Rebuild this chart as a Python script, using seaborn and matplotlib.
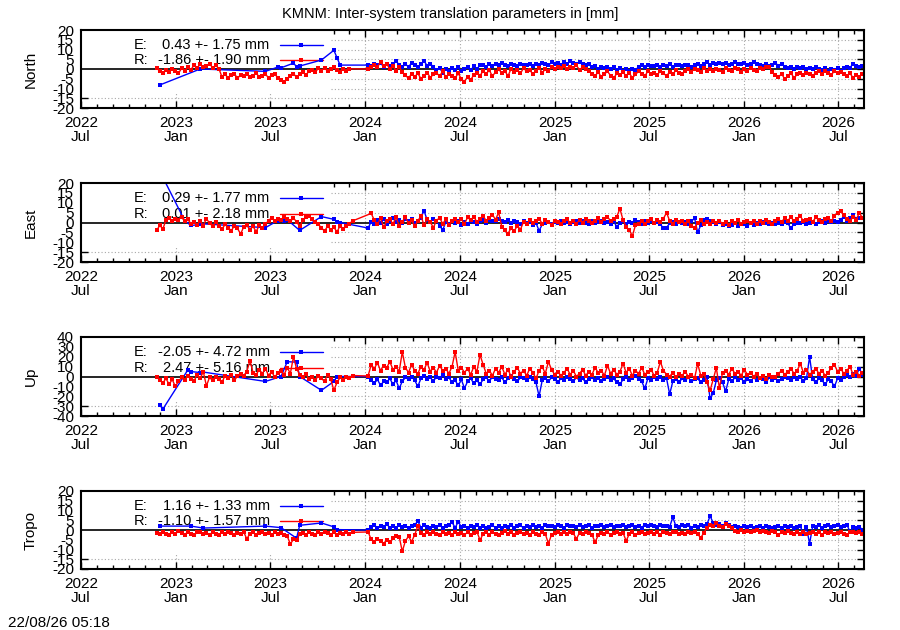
import numpy as np
import pandas as pd
import matplotlib
matplotlib.use("Agg")
import matplotlib.pyplot as plt
import matplotlib.dates as mdates
from matplotlib.patches import Rectangle
import seaborn as sns

na = None
START = "2022-11-24"   # first epoch of the series
STEP_DAYS = 6           # sampling of the values
DENSE_E_START = 68      # sample index from which E is continuous

# ---------------- North ----------------
north_R = [
    0.5, -1.2, -2.0, -0.5, -1.5, 0.2, -1.0, -2.2, 0.3, -0.8,
    1.0, -0.3, 1.8, 0.4, 2.5, 0.8, 1.5, 2.8, 0.6, 1.9,
    0.2, -4.0, -2.8, -4.5, -3.2, -2.4, -4.8, -3.0, -3.8, -2.6,
    -4.2, -3.4, -2.2, -4.0, -3.6, -2.8, -4.4, -3.2, -2.5, -4.6,
    -5.5, -6.8, -5.0, -3.6, -2.4, -4.2, -2.8, -1.6, -3.0, -1.2,
    -0.4, -1.6, 0.3, -0.8, 0.6, -1.2, -0.2, 0.8, -0.6, -1.4,
    0.2, -0.9, 0.1, na, na, na, na, na, 0.0, 1.2,
    2.0, 0.8, 3.8, 1.5, 2.4, 0.2, 1.6, -0.8, 0.9, -1.5,
    -3.2, -4.8, -2.4, -4.0, -2.2, -5.0, -3.4, -1.8, -4.4, -2.8,
    -2.0, -3.6, -1.2, -4.2, -2.6, -3.8, -4.6, -2.2, -5.2, -6.5,
    -4.0, -5.6, -3.0, -1.8, -3.4, -1.0, -2.4, -0.6, -3.8, -1.4,
    -0.2, -2.0, -1.0, -3.6, 0.2, -1.6, -0.6, -2.2, 0.4, -1.2,
    -0.4, -2.8, -0.8, 0.6, -1.8, -0.2, -1.0, 0.8, 0.2, 1.2,
    0.4, 1.6, -0.2, 1.0, 0.6, 1.8, -0.4, 0.9, 0.2, -1.2,
    -2.4, -3.8, -1.4, -4.2, -2.6, -1.2, -3.4, -4.8, -2.2, -3.0,
    -1.6, -3.6, -2.0, -4.6, -2.8, -1.2, -2.4, -3.8, -1.0, -2.6,
    -1.8, -3.2, -0.8, -2.2, -3.6, -1.4, -2.8, -0.6, -1.8, -2.4,
    -0.8, -0.2, -1.4, 0.2, -0.6, -1.6, 0.4, -0.8, -0.2, -1.2,
    0.2, -0.6, -1.4, 0.4, -0.4, -1.0, 0.6, -0.2, -1.6, 0.0,
    -0.8, 0.4, -0.4, -1.2, 0.6, 0.2, 1.2, 1.0, -1.6, -3.0,
    -4.2, -2.4, -5.2, -3.6, -2.0, -4.6, -2.8, -2.2, -3.0, -1.8,
    -2.6, -3.4, -2.0, -1.2, -2.4, -0.8, -1.8, -3.0, -1.0, -2.2,
    -1.4, -2.8, -3.6, -2.2, -4.6, -3.0, -4.0, -2.4,
]
north_E_early_idx = [1, 14, 35, 39, 40, 44, 45, 46, 53, 57, 58, 59]
north_E_early_val = [-8.2, 0.0, -1.2, 1.0, 0.6, 3.0, 1.2, 1.5, 4.6, 9.6, 5.8, 2.0]
north_E = [
    2.0, 1.4, 2.6, 1.8, 3.0, 1.2, 2.4, 1.6, 2.8, 4.0, 2.2, 1.0,
    2.4, 1.2, 3.0, 1.8, 0.8, 2.6, 4.2, 1.6, 2.8, 1.0,
    -0.6, 0.4, -1.8, 0.2, -1.0, 0.6, -0.4, 0.8, -1.2, 0.2,
    0.8, -0.6, 1.4, 0.2, 1.8, 2.2, 1.2, 2.6, 1.6, 2.4,
    1.8, 3.0, 2.2, 1.4, 2.8, 2.0, 1.6, 2.6, 2.2, 1.8,
    2.4, 1.4, 2.8, 2.0, 3.2, 2.4, 1.8, 3.4, 2.6, 3.0,
    2.2, 3.6, 2.8, 4.0, 3.2, 2.4, 3.8, 2.6, 1.8, 2.4,
    0.8, 1.4, 0.2, 1.0, 0.6, 1.2, 0.0, 0.8, -0.4, 0.6,
    -0.8, -0.2, -1.0, 0.2, -0.6, 1.2, 1.8, 1.0, 2.0, 1.4,
    1.6, 2.2, 1.0, 1.8, 1.4, 2.4, 1.2, 1.8, 2.0, 1.4,
    1.8, 2.2, 1.2, 2.0, 2.6, 1.6, 2.4, 3.4, 2.2, 3.0,
    2.6, 3.2, 2.4, 3.0, 2.2, 2.8, 3.4, 2.4, 2.6, 3.0,
    2.2, 2.8, 3.4, 2.6, 2.0, 1.6, 2.8, 1.4, 2.2, 3.2,
    1.6, 2.8, 1.2, 0.6, 1.0, 0.2, 0.8, 0.4, 1.0, 0.2,
    0.6, -0.2, 0.8, 0.0, -0.6, 0.4, -1.0, 0.2, -0.4, 0.6,
    -0.8, 0.4, 1.2, 0.6, 2.8, 1.4, 0.8, 1.6,
]

# ---------------- East ----------------
east_R = [
    -4.0, -1.5, -3.2, 1.2, 2.4, 0.8, 2.0, 1.4, 2.8, 0.6,
    1.6, -0.6, 0.4, -1.2, 0.8, -1.6, 2.0, -0.4, -1.8, 0.2,
    -2.0, -3.4, -1.0, -2.6, -4.2, -1.6, -3.0, -5.8, -2.2, -1.2,
    -3.6, -2.0, -4.6, -1.4, -2.8, -0.8, 1.0, 2.4, 0.8, 2.0,
    1.4, 3.0, 1.8, 0.6, 2.2, 0.4, -2.0, 1.2, 2.8, 3.4,
    1.6, 0.4, -1.0, -2.6, -4.4, -1.8, -3.6, -2.4, -4.8, -1.6,
    -3.2, -2.0, -0.6, 0.8, na, na, na, na, na, 4.6,
    1.2, -1.0, 2.2, -2.4, 0.6, 1.8, -0.8, 2.6, -1.6, 0.4,
    2.8, -0.4, 1.4, -2.0, 0.8, 3.2, -1.2, 1.6, 0.2, -2.6,
    1.0, 2.4, -0.6, 1.6, -1.4, 0.6, 2.0, 0.4, 1.8, -0.8,
    2.6, 1.2, 3.0, 0.2, 1.8, 3.4, 0.8, 2.2, 4.0, 1.4,
    5.2, -2.2, -4.0, -5.6, -2.8, -4.4, -1.6, -3.6, 0.4, -1.0,
    1.2, -0.4, 0.8, 2.0, -0.6, 1.4, 0.2, -1.2, 1.0, 0.4,
    -0.8, 0.6, 1.6, -0.2, 0.8, -0.6, 1.2, 0.0, 1.8, 0.6,
    -0.4, 1.0, 2.2, 0.4, 1.6, 2.8, 0.8, 2.0, 3.0, 7.0,
    1.2, -2.2, -3.8, -6.8, -1.4, -0.6, 1.0, -0.8, 0.6, 1.6,
    -0.4, 1.2, 0.2, 2.0, 5.0, 0.8, -0.6, 1.4, 0.2, 1.0,
    -0.8, 0.6, -1.8, -2.6, -0.4, 1.2, -1.0, 0.4, -0.6, 0.8,
    -0.2, 1.0, -0.8, 0.4, -1.2, 0.6, -0.4, 1.2, -0.6, 0.2,
    1.0, -0.4, 0.6, -1.0, 0.8, 0.0, 1.4, 0.2, -0.6, 0.8,
    1.6, 0.4, 2.2, 1.0, 2.8, 0.6, 1.8, 3.2, 0.8, 1.4,
    2.0, 0.4, 2.6, 1.2, 0.2, 1.8, 2.4, 0.6, 3.4, 4.8,
    5.8, 3.6, 2.0, 0.6, 3.0, 1.4, 5.0, 2.2,
]
east_E_early_idx = [1, 9, 11, 13, 14, 35, 39, 41, 42, 46, 53, 57, 58, 59]
east_E_early_val = [26.0, 1.0, -1.5, -1.2, -0.6, -2.6, 1.0, 0.8, 1.4, -4.0, 3.0, 1.6, 0.4, 0.0]
east_E = [
    -2.8, 0.4, -1.0, 1.2, 0.0, 1.8, -0.6, 0.8, 2.2, 0.2, 1.4, -0.4,
    1.6, 0.6, 2.0, -0.2, 1.0, 2.4, 6.0, 1.2, 0.4, 1.8,
    0.8, -1.6, -3.8, 0.2, -1.0, 0.6, -0.4, 1.0, -1.2, 0.4,
    -0.6, 0.8, 0.2, -0.8, 0.6, 1.2, 0.0, 1.4, 0.6, 1.0,
    1.6, 1.0, 0.4, 1.2, -0.4, 0.8, 0.2, -0.8, 0.6, 0.0,
    0.4, -1.2, -0.2, -4.2, -1.0, -0.4, 0.2, -0.6, 0.4, -0.2,
    0.6, -0.4, 0.2, -0.8, 0.4, 1.0, -0.2, 0.6, 0.0, -0.6,
    0.8, -0.2, 0.4, 1.0, -0.4, 0.2, -0.8, 0.6, -2.2, 0.0,
    0.6, -0.8, 0.2, -0.4, 1.2, 0.4, -0.6, 0.8, -0.2, 0.6,
    -0.4, 0.2, -0.8, -3.0, -2.6, -0.4, 0.4, -0.6, 0.2, -0.2,
    0.4, -0.8, 0.6, 2.2, -5.0, -1.4, 1.2, 1.8, 0.8, 0.2,
    -0.6, 0.4, -1.4, -0.8, -2.0, -1.2, -0.4, -1.6, -0.6, -1.0,
    -1.8, -0.4, -1.2, -0.2, -0.8, 0.2, -0.4, -1.0, 0.0, -0.6,
    -0.2, -0.8, 0.2, -0.4, -3.0, -0.6, 0.0, -0.4, 0.4, -1.0,
    -0.2, 0.4, -0.6, 0.2, 0.6, -0.2, 0.8, 0.2, 1.0, 0.4,
    1.4, 3.0, 0.8, 2.2, 4.0, 1.6, 2.2, 2.4,
]

# ---------------- Up ----------------
up_R = [
    0.0, -4.0, -6.5, -2.0, -8.0, -3.0, -10.0, -5.0, -1.0, -4.0,
    1.0, -3.0, -5.0, 2.0, -2.0, 5.0, -9.5, -1.0, -4.0, 0.0,
    -3.0, -6.0, 1.0, -2.0, 2.0, -4.0, 0.5, 3.0, 1.0, 5.0,
    16.0, 4.0, 2.0, 7.0, 3.0, 8.0, 1.0, 5.0, -1.0, 4.0,
    6.0, 2.0, 9.0, 3.0, 20.0, 8.0, 2.0, -1.0, 3.0, -3.0,
    0.0, -4.0, 1.0, -2.0, -5.0, 2.0, -3.0, -14.0, -6.0, -1.0,
    -4.0, 0.0, -2.0, 1.0, na, na, na, na, 0.5, 12.0,
    8.0, 14.0, 6.0, 11.0, 9.0, 15.0, 7.0, 10.0, 5.0, 25.0,
    9.0, 4.0, 12.0, 6.0, 3.0, 10.0, 7.0, 14.0, 5.0, 9.0,
    4.0, 11.0, 6.0, 8.0, 3.0, 10.0, 25.0, 6.0, 9.0, 4.0,
    8.0, 2.0, 10.0, 5.0, 22.0, 12.0, 3.0, 6.0, 1.0, 8.0,
    4.0, 10.0, 2.0, 7.0, 0.0, 5.0, 9.0, 3.0, 6.0, 1.0,
    8.0, 4.0, -2.0, 6.0, 10.0, 3.0, 15.0, 7.0, 2.0, 5.0,
    1.0, 4.0, 8.0, 2.0, 6.0, 0.0, 3.0, 7.0, 1.0, 5.0,
    2.0, 9.0, 4.0, 6.0, 1.0, 11.0, 3.0, 7.0, 2.0, 5.0,
    13.0, 4.0, 8.0, 1.0, 6.0, 3.0, 9.0, 2.0, 5.0, 7.0,
    1.0, 4.0, 15.0, 6.0, 2.0, 0.0, 4.0, -1.0, 3.0, 1.0,
    5.0, 0.0, 2.0, -2.0, 13.0, 1.0, 3.0, -6.0, -14.0, -3.0,
    9.0, -12.0, 4.0, 6.0, 2.0, 8.0, 3.0, 5.0, 1.0, 7.0,
    2.0, 4.0, 0.0, 3.0, -2.0, 1.0, -3.0, 2.0, -1.0, 0.0,
    3.0, 6.0, 2.0, 5.0, 8.0, 3.0, 6.0, 13.0, 4.0, 7.0,
    2.0, 5.0, 8.0, 3.0, 6.0, 1.0, 4.0, 9.0, 12.0, 5.0,
    8.0, 3.0, 6.0, 10.0, 2.0, 5.0, 1.0, 4.0,
]
up_E_early_idx = [1, 2, 10, 11, 14, 15, 35, 40, 42, 45, 46, 53, 57, 58]
up_E_early_val = [-29.0, -33.0, 6.5, 5.0, 4.0, 4.5, -5.0, 0.0, 15.0, 14.5, 0.0, -14.0, -5.0, 0.0]
up_E = [
    0.0, -4.0, -7.0, -3.0, -9.0, -5.0, -6.0, -2.0, -8.0, -4.0, -12.0, -5.0,
    -1.0, -3.0, 0.0, -4.0, -10.0, -2.0, 1.0, -3.0, -1.0, -5.0,
    0.0, -2.0, 2.0, -3.0, -1.0, -6.0, -4.0, -9.0, -3.0, -12.0,
    -5.0, -2.0, -7.0, -4.0, -8.0, -3.0, -1.0, -5.0, 0.0, -3.0,
    -4.0, -1.0, -6.0, -2.0, 1.0, -3.0, -5.0, -1.0, -2.0, -4.0,
    0.0, -3.0, -6.0, -20.0, -4.0, -2.0, -5.0, -1.0, -3.0, -6.0,
    -2.0, -4.0, 0.0, -3.0, -5.0, -1.0, -4.0, -2.0, -6.0, -3.0,
    -1.0, -4.0, -2.0, -5.0, -3.0, 0.0, -4.0, -2.0, -6.0, -8.0,
    -3.0, -1.0, -4.0, -2.0, 1.0, -3.0, -5.0, -12.0, -2.0, -4.0,
    0.0, -3.0, -1.0, -4.0, -2.0, -18.0, -5.0, -3.0, -6.0, -2.0,
    -4.0, -1.0, -5.0, -3.0, -2.0, -6.0, -4.0, -1.0, -22.0, -17.0,
    -4.0, -2.0, -6.0, -15.0, -3.0, -5.0, -1.0, -4.0, -2.0, -6.0,
    -3.0, -5.0, -1.0, -4.0, -2.0, -3.0, -6.0, -1.0, -4.0, -2.0,
    -5.0, -3.0, 0.0, -2.0, -4.0, -1.0, -3.0, 0.0, -5.0, -2.0,
    20.0, -3.0, -6.0, -2.0, -4.0, -8.0, -3.0, -5.0, -10.0, -2.0,
    -4.0, -1.0, 2.0, 0.0, 3.0, 1.0, 8.0, 2.0,
]

# ---------------- Tropo ----------------
tropo_R = [
    -1.4, -2.2, -0.8, -1.8, -2.6, -1.2, -2.0, -0.6, -1.6, -2.4,
    -1.0, -1.8, -2.8, -1.2, -0.8, -2.0, -1.4, -2.6, -1.0, -1.8,
    -2.4, -1.2, -2.0, -0.8, -1.6, -2.8, -1.4, -2.2, -1.0, -4.6,
    -1.8, -1.2, -2.6, -1.4, -0.8, -2.2, -1.6, -2.8, -1.2, -2.0,
    -1.4, -2.6, -3.2, -7.2, -4.8, -5.2, -2.0, -1.4, -2.4, -1.0,
    -1.8, -2.6, -1.2, -2.0, -0.8, -1.6, -2.4, -1.2, -2.8, -1.4,
    -2.0, -1.0, -1.8, -1.2, na, na, na, na, -1.0, -4.8,
    -6.2, -4.4, -5.8, -7.0, -5.0, -6.4, -4.2, -3.0, -3.4, -11.0,
    -5.6, -3.2, -6.0, -2.4, 2.0, -1.4, -2.6, -1.2, -2.2, -0.8,
    -1.8, -2.8, -1.0, -2.2, -1.4, -2.6, -1.0, -2.0, -1.6, -2.4,
    -1.2, -2.6, -1.6, -0.8, -5.2, -2.0, -1.2, -2.4, -1.0, -1.8,
    -2.6, -1.4, -0.6, -2.0, -1.2, -2.8, -1.6, -1.0, -2.2, -1.4,
    -2.4, -1.0, -1.8, -2.6, -1.2, -2.0, -7.0, -2.4, -1.4, -1.0,
    -1.8, -1.2, -2.2, -0.8, -1.6, -4.6, -1.4, -2.0, -1.0, -1.6,
    -2.4, -6.2, -2.8, -1.4, -2.0, -1.0, -2.6, -1.6, -1.2, -2.2,
    -1.4, -5.6, -2.0, -1.2, -2.6, -1.6, -1.0, -2.2, -1.4, -0.8,
    -1.8, -1.2, -2.4, -1.0, -1.6, -2.2, -1.2, -0.8, -1.8, -1.4,
    -2.0, -1.2, -1.6, -0.8, -2.2, -4.0, -1.4, 1.2, 2.8, 1.8,
    3.6, 2.2, 1.4, 3.0, 2.0, 0.8, -0.4, -1.0, -0.2, -0.8,
    -0.4, -1.2, -0.6, 0.0, -1.0, -0.4, -0.8, -1.4, -0.6, -1.2,
    -2.6, -1.0, -1.6, -0.6, -1.4, -2.0, -1.0, -1.8, -1.2, -2.2,
    -1.4, -0.8, -1.8, -1.2, -2.4, -1.0, -1.6, -0.8, -2.0, -1.4,
    -1.0, -1.8, -2.6, -1.2, -0.8, -1.6, -1.2, -2.0,
]
tropo_E_early_idx = [1, 11, 15, 35, 40, 45, 46, 53, 57, 58]
tropo_E_early_val = [2.0, 2.0, 1.0, 2.0, 1.2, -4.2, 2.4, 3.6, 1.6, 0.2]
tropo_E = [
    0.0, 1.4, 2.6, 1.0, 2.2, 1.6, 3.0, 1.2, 2.0, 0.8, 2.8, 1.4,
    2.2, 1.0, 1.8, 2.6, 4.6, 1.2, 2.4, 1.6, 0.8, 2.0,
    1.4, 2.6, 1.0, 1.8, 2.4, 4.0, 1.2, 4.2, 1.6, 2.0,
    1.0, 2.2, 1.4, 2.8, 1.2, 2.0, 0.8, 1.6, 2.4, 1.2,
    1.8, 1.0, 2.2, 1.4, 2.6, 1.2, 1.8, 2.4, 1.0, 2.0,
    1.4, 2.8, 1.6, 2.2, 1.0, 2.6, 1.8, 2.2, 1.4, 2.4,
    2.0, 1.2, 2.6, 1.8, 2.2, 1.4, 2.8, 1.6, 2.0, 2.4,
    1.2, 2.2, 1.8, 2.6, 1.4, 2.0, 2.8, 1.6, 2.2, 1.8,
    2.4, 1.4, 2.0, 2.6, 1.6, 2.2, 1.2, 2.8, 1.8, 2.4,
    2.0, 1.4, 2.6, 1.8, 2.2, 1.6, 6.6, 2.0, 1.4, 2.4,
    1.8, 2.8, 1.2, 2.2, 1.6, 2.6, 2.0, 3.0, 7.2, 3.6,
    2.4, 3.2, 2.0, 3.6, 2.6, 1.4, 2.0, 1.6, 1.2, 2.0,
    1.4, 1.8, 1.0, 1.6, 2.2, 1.2, 1.8, 1.4, 0.8, 1.6,
    2.0, 1.2, 1.8, 1.4, 2.2, 1.0, 1.6, 2.0, -2.0, 1.4,
    -7.0, 2.0, 1.6, 2.4, 1.2, 1.8, 2.6, 1.4, 2.0, 2.4,
    1.6, 2.2, 2.8, -1.0, 1.4, 0.8, 1.6, 0.2,
]

panel_names = ["North", "East", "Up", "Tropo"]
key_E = ["0.43 +- 1.75 mm", "0.29 +- 1.77 mm", "-2.05 +- 4.72 mm", "1.16 +- 1.33 mm"]
key_R = ["-1.86 +- 1.90 mm", "0.01 +- 2.18 mm", "2.47 +- 5.16 mm", "-1.10 +- 1.57 mm"]
y_limits = [(-20, 20), (-20, 20), (-40, 40), (-20, 20)]
y_steps = [5, 5, 10, 5]
title = "KMNM: Inter-system translation parameters in [mm]"
stamp = "22/08/26 05:18"

R_series = [north_R, east_R, up_R, tropo_R]
E_series = [(north_E_early_idx, north_E_early_val, north_E),
            (east_E_early_idx, east_E_early_val, east_E),
            (up_E_early_idx, up_E_early_val, up_E),
            (tropo_E_early_idx, tropo_E_early_val, tropo_E)]

# ---------------------------------------------------------------
sns.set_style("ticks")
plt.rcParams.update({
    "font.family": ["Liberation Sans", "DejaVu Sans"],
    "font.size": 10.5,
    "text.color": "black",
    "axes.edgecolor": "black",
    "axes.labelcolor": "black",
    "xtick.color": "black",
    "ytick.color": "black",
})

t0 = pd.Timestamp(START)


def to_dates(idx):
    return t0 + pd.to_timedelta(np.asarray(idx) * STEP_DAYS, unit="D")


def frame_R(vals):
    idx = np.arange(len(vals))
    df = pd.DataFrame({"date": to_dates(idx),
                       "val": pd.to_numeric(pd.Series(vals, dtype="object"), errors="coerce")})
    return df.dropna()


def frame_E(early_idx, early_val, dense):
    idx = list(early_idx) + list(range(DENSE_E_START, DENSE_E_START + len(dense)))
    vals = list(early_val) + list(dense)
    df = pd.DataFrame({"date": to_dates(idx), "val": vals})
    return df.dropna().sort_values("date")


W, H = 900, 630
fig = plt.figure(figsize=(W / 100, H / 100), dpi=100)

ax_left, ax_right = 81, 864
panels_px = [(30, 108), (183, 262), (337, 416), (491, 569)]
xmin, xmax = pd.Timestamp("2022-07-01"), pd.Timestamp("2026-08-20")
grid_dates = pd.date_range("2023-01-01", "2026-07-01", freq="6MS")

fmt = mdates.DateFormatter("%Y\n%b")
MS = 3.3

for k, name in enumerate(panel_names):
    top, bot = panels_px[k]
    ax = fig.add_axes([ax_left / W, 1 - bot / H, (ax_right - ax_left) / W, (bot - top) / H])
    ax.set_facecolor("white")

    dfE = frame_E(*E_series[k])
    dfR = frame_R(R_series[k])
    sns.lineplot(data=dfE, x="date", y="val", ax=ax, color="#0000ff", lw=1.0,
                 marker="s", markersize=MS, markeredgewidth=0, estimator=None,
                 sort=False, zorder=3)
    sns.lineplot(data=dfR, x="date", y="val", ax=ax, color="#ff0000", lw=1.0,
                 marker="s", markersize=MS, markeredgewidth=0, estimator=None,
                 sort=False, zorder=4)

    lo, hi = y_limits[k]
    ax.set_xlim(xmin, xmax)
    ax.set_ylim(lo, hi)
    ax.set_xlabel("")
    ax.set_ylabel("")

    ax.xaxis.set_major_locator(mdates.MonthLocator(bymonth=[1, 7]))
    ax.xaxis.set_minor_locator(mdates.MonthLocator())
    ax.xaxis.set_major_formatter(fmt)
    yt = np.arange(lo, hi + 0.1, y_steps[k])
    ax.set_yticks(yt)
    ax.set_yticklabels([f"{v:g}" for v in yt])
    ax.yaxis.set_minor_locator(matplotlib.ticker.NullLocator())

    # dotted grid drawn below a key mask
    for v in yt[1:-1]:
        if v != 0:
            ax.axhline(v, color="#a8a8a8", ls=(0, (1, 2)), lw=0.8, zorder=0.5)
    for d in grid_dates:
        ax.axvline(d, color="#a8a8a8", ls=(0, (1, 2)), lw=0.8, zorder=0.5)
    ax.add_patch(Rectangle((0, 0.18), 0.319, 0.82, transform=ax.transAxes,
                           facecolor="white", edgecolor="none", zorder=1))
    ax.axhline(0, color="black", lw=1.2, zorder=2)

    # key
    yE, yR = 0.81, 0.61
    for yy, lab, txt, col in [(yE, "E:", key_E[k], "#0000ff"), (yR, "R:", key_R[k], "#ff0000")]:
        ax.text(0.067, yy, lab, transform=ax.transAxes, ha="left", va="center", zorder=2)
        ax.text(0.241, yy, txt, transform=ax.transAxes, ha="right", va="center", zorder=2)
        ax.plot([0.254, 0.309], [yy, yy], transform=ax.transAxes, color=col, lw=1.0, zorder=2)
        ax.plot([0.2815], [yy], transform=ax.transAxes, color=col, marker="s",
                markersize=MS, markeredgewidth=0, zorder=2)

    for s in ax.spines.values():
        s.set_linewidth(1.5)
        s.set_color("black")
        s.set_zorder(5)
    ax.tick_params(axis="both", which="both", direction="in", top=True, right=True,
                   labelsize=11, width=1)
    ax.tick_params(which="major", length=5)
    ax.tick_params(which="minor", length=3)
    ax.tick_params(axis="x", pad=6)
    ax.tick_params(axis="y", pad=5)

    fig.text(31 / W, 1 - (top + bot) / 2 / H, name, rotation=90, ha="center", va="center",
             fontsize=11)

fig.text(0.5, 1 - 14 / H, title, ha="center", va="center")
fig.text(8 / W, 1 - 623 / H, stamp, ha="left", va="center", fontsize=11)

fig.canvas.draw()
for ax in fig.axes:
    for lbl in ax.get_xticklabels():
        lbl.set_linespacing(1.0)

fig.savefig("out.png", dpi=100, facecolor="white")
